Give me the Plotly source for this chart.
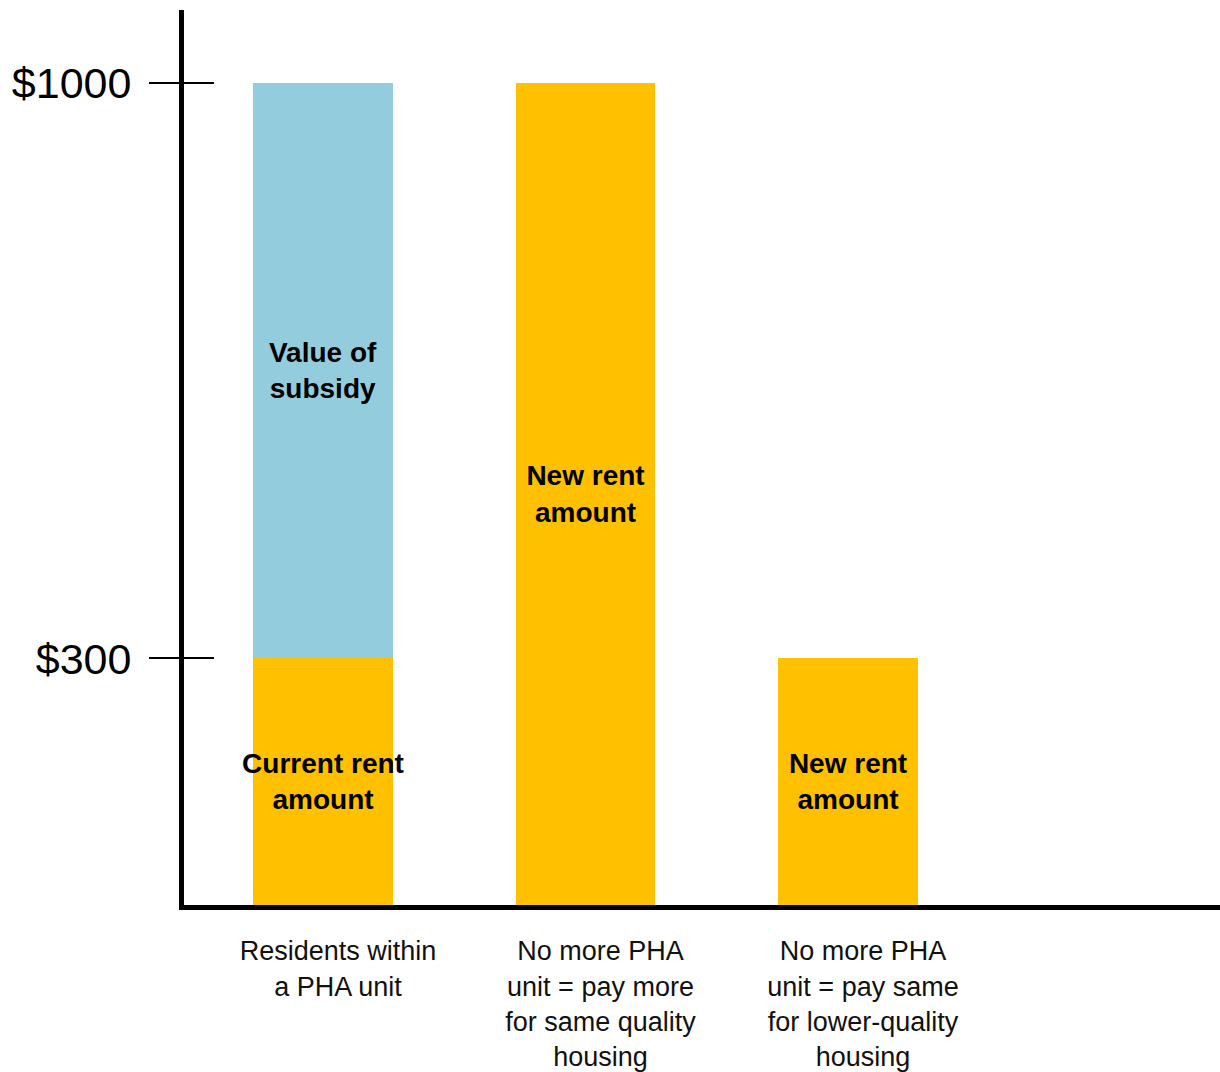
import plotly.graph_objects as go

categories = [
    "Residents within<br>a PHA unit",
    "No more PHA<br>unit = pay more<br>for same quality<br>housing",
    "No more PHA<br>unit = pay same<br>for lower-quality<br>housing",
]
rent_values = [300, 1000, 300]
rent_labels = ["Current rent<br>amount", "New rent<br>amount", "New rent<br>amount"]
subsidy_values = [700, None, None]
subsidy_labels = ["Value of<br>subsidy", "", ""]
tick_values = [300, 1000]
tick_labels = ["$300", "$1000"]

GOLD = "#FFC000"
BLUE = "#93CDDD"
FONT = "Arial, 'Liberation Sans', sans-serif"

fig = go.Figure()
fig.add_trace(go.Bar(
    x=categories, y=rent_values, text=rent_labels,
    marker=dict(color=GOLD, line=dict(width=0)),
    width=0.533, textposition="inside", insidetextanchor="middle",
    constraintext="none", textangle=0,
    textfont=dict(family=FONT, size=28, color="black", weight="bold"),
    hoverinfo="skip", showlegend=False,
))
fig.add_trace(go.Bar(
    x=categories, y=subsidy_values, text=subsidy_labels,
    marker=dict(color=BLUE, line=dict(width=0)),
    width=0.533, textposition="inside", insidetextanchor="middle",
    constraintext="none", textangle=0,
    textfont=dict(family=FONT, size=28, color="black", weight="bold"),
    hoverinfo="skip", showlegend=False,
))

fig.update_layout(
    width=1220, height=1072, autosize=False,
    margin=dict(l=184, r=0, t=10, b=167, pad=0),
    barmode="stack",
    plot_bgcolor="white", paper_bgcolor="white",
    font=dict(family=FONT, color="black"),
    xaxis=dict(
        type="category", range=[-0.5295, 3.417],
        showline=True, linewidth=5, linecolor="black",
        showgrid=False, zeroline=False, ticks="",
        tickfont=dict(family=FONT, size=27, color="#111"),
        ticklabelshift=15, ticklabelstandoff=18,
        fixedrange=True,
    ),
    yaxis=dict(
        range=[0, 1089], showline=True, linewidth=5, linecolor="black",
        showgrid=False, zeroline=False,
        tickvals=tick_values, ticktext=tick_labels,
        ticks="outside", ticklen=30, tickwidth=1.5, tickcolor="black",
        tickfont=dict(family=FONT, size=43, color="black"),
        ticklabelstandoff=9,
    ),
    yaxis2=dict(
        overlaying="y", side="left", range=[0, 1089],
        showline=False, showgrid=False, zeroline=False,
        tickvals=tick_values, showticklabels=False,
        ticks="inside", ticklen=30, tickwidth=1.5, tickcolor="black",
    ),
)
# invisible trace to activate yaxis2 ticks
fig.add_trace(go.Scatter(x=[categories[0]], y=[None], yaxis="y2",
                         showlegend=False, hoverinfo="skip"))

fig.write_html("out.html")
